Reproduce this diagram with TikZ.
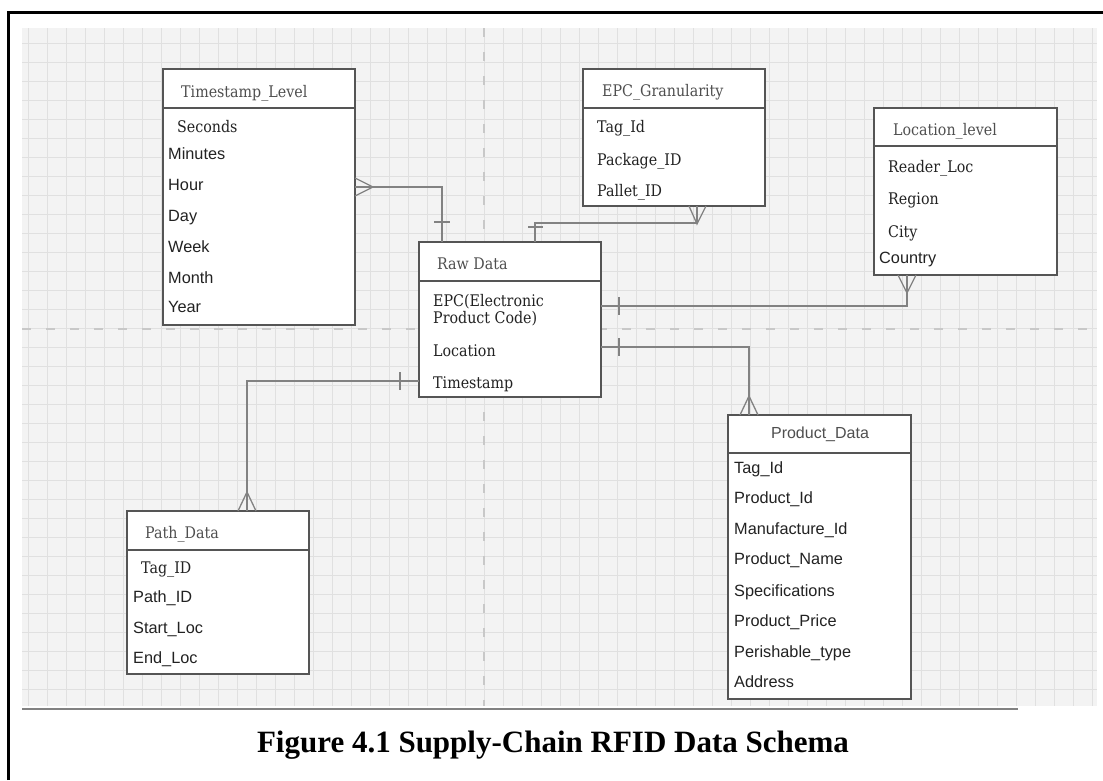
\documentclass[tikz,border=0pt]{standalone}
\usepackage{fontspec}
\setmainfont{Liberation Sans}
\newfontfamily\serifface[FakeStretch=0.89]{DejaVu Serif}
\newfontfamily\capface{Liberation Serif}
\usetikzlibrary{calc}

\definecolor{boxgray}{HTML}{555555}
\definecolor{linegray}{HTML}{828282}
\definecolor{gridbg}{HTML}{F3F3F3}
\definecolor{gridline}{HTML}{E0E0E0}
\definecolor{majorline}{HTML}{C8C8C8}
\definecolor{titlegray}{HTML}{4F4F4F}
\definecolor{attrdark}{HTML}{222222}

\tikzset{
  entity/.style={draw=boxgray, line width=1.6pt, fill=white, inner sep=0pt,
                 outer sep=0pt, anchor=north west},
  divider/.style={draw=boxgray, line width=1.6pt},
  ttl/.style={anchor=base west, inner sep=0pt, text=titlegray,
              font=\serifface\fontsize{16}{17}\selectfont},
  sattr/.style={anchor=base west, inner sep=0pt, text=attrdark,
                font=\serifface\fontsize{16}{17}\selectfont},
  pattr/.style={anchor=base west, inner sep=0pt, text=attrdark,
                font=\fontsize{16.3}{19}\selectfont},
  conn/.style={draw=linegray, line width=1.5pt},
  crow/.style={draw=linegray, line width=1.3pt},
}

\begin{document}
\begin{tikzpicture}[x=1pt, y=-1pt]
\useasboundingbox (0,0) rectangle (1103,780);

% canvas with grid
\fill[gridbg] (22,28) rectangle (1097,706);
\begin{scope}
  \clip (22,28) rectangle (1097,706);
  \foreach \k in {0,...,56} \draw[gridline, line width=1pt] (28+19*\k,28) -- (28+19*\k,706);
  \foreach \k in {0,...,34} \draw[gridline, line width=1pt] (22,43+19*\k) -- (1097,43+19*\k);
  \draw[majorline, line width=2.5pt, dash pattern=on 9pt off 15pt] (484,28) -- (484,706);
  \draw[majorline, line width=2.5pt, dash pattern=on 9pt off 15pt] (22,329) -- (1097,329);
\end{scope}
\draw[draw=linegray, line width=1.5pt] (22,709) -- (1018,709);

% outer frame
\draw[line width=3pt] (8,780) -- (8,12) -- (1103,12);

% ---------- entities ----------
% Timestamp_Level
\node[entity, minimum width=192pt, minimum height=256pt] (ts) at (163,69) {};
\draw[divider] ($(ts.north west)+(0,39)$) -- ($(ts.north east)+(0,39)$);
\node[ttl] (tsT) at (181,97) {Timestamp\_Level};
\node[sattr] (ts1) at (177,132) {Seconds};
\node[pattr] (ts2) at (168,159) {Minutes};
\node[pattr] (ts3) at (168,190) {Hour};
\node[pattr] (ts4) at (168,221) {Day};
\node[pattr] (ts5) at (168,252) {Week};
\node[pattr] (ts6) at (168,283) {Month};
\node[pattr] (ts7) at (168,312) {Year};

% EPC_Granularity
\node[entity, minimum width=182pt, minimum height=137pt] (epc) at (583,69) {};
\draw[divider] ($(epc.north west)+(0,39)$) -- ($(epc.north east)+(0,39)$);
\node[ttl] (epcT) at (602,96) {EPC\_Granularity};
\node[sattr] (epc1) at (597,132) {Tag\_Id};
\node[sattr] (epc2) at (597,165) {Package\_ID};
\node[sattr] (epc3) at (597,196) {Pallet\_ID};

% Location_level
\node[entity, minimum width=183pt, minimum height=167pt] (loc) at (874,108) {};
\draw[divider] ($(loc.north west)+(0,38)$) -- ($(loc.north east)+(0,38)$);
\node[ttl] (locT) at (893,135) {Location\_level};
\node[sattr] (loc1) at (888,172) {Reader\_Loc};
\node[sattr] (loc2) at (888,204) {Region};
\node[sattr] (loc3) at (888,237) {City};
\node[pattr] (loc4) at (879,263) {Country};

% Raw Data
\node[entity, minimum width=182pt, minimum height=155pt] (raw) at (419,242) {};
\draw[divider] ($(raw.north west)+(0,39)$) -- ($(raw.north east)+(0,39)$);
\node[ttl] (rawT) at (437,269) {Raw Data};
\node[sattr] (raw1a) at (433,306) {EPC(Electronic};
\node[sattr] (raw1b) at (433,323) {Product Code)};
\node[sattr] (raw2) at (433,356) {Location};
\node[sattr] (raw3) at (433,388) {Timestamp};

% Path_Data
\node[entity, minimum width=182pt, minimum height=163pt] (path) at (127,511) {};
\draw[divider] ($(path.north west)+(0,39)$) -- ($(path.north east)+(0,39)$);
\node[ttl] (pathT) at (145,538) {Path\_Data};
\node[sattr] (path1) at (141,573) {Tag\_ID};
\node[pattr] (path2) at (133,602) {Path\_ID};
\node[pattr] (path3) at (133,633) {Start\_Loc};
\node[pattr] (path4) at (133,663) {End\_Loc};

% Product_Data
\node[entity, minimum width=183pt, minimum height=284pt] (prod) at (728,415) {};
\draw[divider] ($(prod.north west)+(0,38)$) -- ($(prod.north east)+(0,38)$);
\node[pattr, anchor=base, text=titlegray, font=\fontsize{16}{19}\selectfont] (prodT) at (820,438) {Product\_Data};
\node[pattr] (prod1) at (734,473) {Tag\_Id};
\node[pattr] (prod2) at (734,503) {Product\_Id};
\node[pattr] (prod3) at (734,534) {Manufacture\_Id};
\node[pattr] (prod4) at (734,564) {Product\_Name};
\node[pattr] (prod5) at (734,596) {Specifications};
\node[pattr] (prod6) at (734,626) {Product\_Price};
\node[pattr] (prod7) at (734,657) {Perishable\_type};
\node[pattr] (prod8) at (734,687) {Address};

% ---------- connection points ----------
\coordinate (tsR)   at ($(ts.north east)+(0,118)$);
\coordinate (rawA)  at ($(raw.north west)+(23,0)$);
\coordinate (rawB)  at ($(raw.north west)+(116,0)$);
\coordinate (epcB)  at ($(epc.south west)+(114,0)$);
\coordinate (rawR1) at ($(raw.north east)+(0,64)$);
\coordinate (locB)  at ($(loc.south west)+(33,0)$);
\coordinate (rawR2) at ($(raw.north east)+(0,105)$);
\coordinate (prodT0) at ($(prod.north west)+(21,0)$);
\coordinate (rawL)  at ($(raw.north west)+(0,139)$);
\coordinate (pathT0) at ($(path.north west)+(120,0)$);

% ---------- connectors ----------
% Timestamp_Level (many) -- Raw Data (one)
\draw[conn] (tsR) -| (rawA);
\draw[crow] ($(tsR)+(0,-9)$) -- ($(tsR)+(18,0)$) -- ($(tsR)+(0,9)$);
\draw[conn] ($(rawA)+(-8,-20)$) -- ($(rawA)+(8,-20)$);

% EPC_Granularity (many) -- Raw Data (one)
\draw[conn] (rawB) |- ($(epcB)+(0,17)$) -- (epcB);
\draw[crow] ($(epcB)+(-8,0)$) -- ($(epcB)+(0,18)$) -- ($(epcB)+(9,0)$);
\draw[conn] ($(rawB)+(-7,-15)$) -- ($(rawB)+(8,-15)$);

% Location_level (many) -- Raw Data (one)
\draw[conn] (rawR1) -| (locB);
\draw[crow] ($(locB)+(-9,0)$) -- ($(locB)+(0,18)$) -- ($(locB)+(9,0)$);
\draw[conn] ($(rawR1)+(18,-9)$) -- ($(rawR1)+(18,9)$);

% Product_Data (many) -- Raw Data (one)
\draw[conn] (rawR2) -| (prodT0);
\draw[crow] ($(prodT0)+(-9,0)$) -- ($(prodT0)+(0,-19)$) -- ($(prodT0)+(9,0)$);
\draw[conn] ($(rawR2)+(18,-9)$) -- ($(rawR2)+(18,9)$);

% Path_Data (many) -- Raw Data (one)
\draw[conn] (rawL) -| (pathT0);
\draw[crow] ($(pathT0)+(-9,0)$) -- ($(pathT0)+(0,-19)$) -- ($(pathT0)+(9,0)$);
\draw[conn] ($(rawL)+(-19,-9)$) -- ($(rawL)+(-19,9)$);

% ---------- caption ----------
\node[anchor=base, inner sep=0pt, font=\capface\bfseries\fontsize{31}{36}\selectfont] (cap)
  at (553,752) {Figure 4.1 Supply-Chain RFID Data Schema};
\end{tikzpicture}
\end{document}
